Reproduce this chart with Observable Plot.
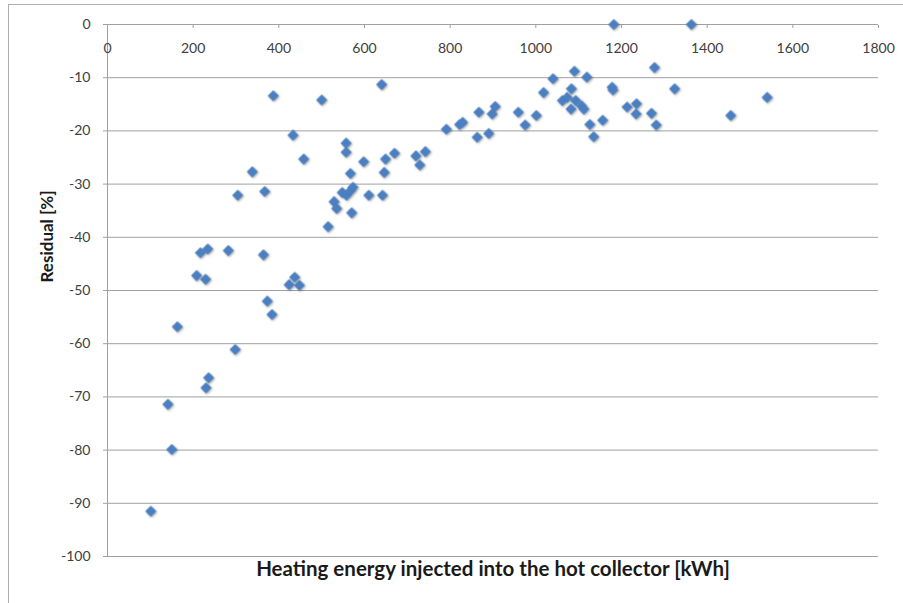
<!DOCTYPE html>
<html>
<head>
<meta charset="utf-8">
<script src="https://cdn.jsdelivr.net/npm/d3@7"></script>
<script src="https://cdn.jsdelivr.net/npm/@observablehq/plot@0.6"></script>
<style>
  html, body { margin: 0; padding: 0; background: #fff; }
  #wrap { position: relative; width: 903px; height: 603px; overflow: hidden; }
  #border { position: absolute; left: 8px; top: 4px; width: 1000px; height: 1000px;
            border-left: 1px solid #b0b0b0; border-top: 1px solid #b0b0b0; pointer-events: none; }
  #wrap svg { position: absolute; left: 0; top: 0; }
  #wrap svg g[aria-label="dot"] { filter: drop-shadow(1px 1.5px 1px rgba(0,0,0,0.35)); }
</style>
</head>
<body>
<div id="wrap"><div id="border"></div></div>
<script>
// Heating energy injected into the hot collector [kWh]
const energy = [
  101, 141, 150, 163, 208, 217, 229, 234, 230, 236,
  282, 298, 304, 338, 364, 367, 373, 384, 387, 424,
  433, 437, 448, 458, 500, 515, 529, 535, 548, 558,
  557, 557, 567, 568, 573, 570, 598, 610, 640, 642,
  646, 649, 670, 720, 729, 742, 791, 822, 829, 863,
  867, 890, 898, 905, 959, 975, 1001, 1018, 1040, 1062,
  1073, 1083, 1090, 1093, 1082, 1107, 1112, 1119, 1126, 1135,
  1156, 1178, 1180, 1182, 1213, 1235, 1234, 1270, 1277, 1281,
  1324, 1363, 1455, 1540
];
// Residual [%]
const residual = [
  -91.5, -71.4, -79.9, -56.8, -47.2, -42.9, -47.9, -42.2, -68.3, -66.4,
  -42.5, -61.1, -32.1, -27.7, -43.3, -31.4, -52.0, -54.5, -13.4, -48.9,
  -20.8, -47.5, -49.0, -25.3, -14.2, -38.0, -33.3, -34.6, -31.6, -32.1,
  -22.3, -24.0, -28.0, -31.2, -30.6, -35.4, -25.8, -32.1, -11.3, -32.1,
  -27.8, -25.3, -24.2, -24.7, -26.4, -23.9, -19.7, -18.8, -18.4, -21.2,
  -16.5, -20.5, -16.8, -15.4, -16.5, -18.9, -17.1, -12.8, -10.2, -14.3,
  -13.7, -12.1, -8.8, -14.3, -15.9, -15.3, -15.9, -9.9, -18.8, -21.1,
  -18.0, -11.8, -12.3, 0, -15.5, -14.9, -16.8, -16.7, -8.1, -18.9,
  -12.1, 0, -17.1, -13.7
];

const xTicks = [0, 200, 400, 600, 800, 1000, 1200, 1400, 1600, 1800];
const yTicks = [0, -10, -20, -30, -40, -50, -60, -70, -80, -90, -100];
const xTitle = "Heating energy injected into the hot collector [kWh]";
const yTitle = "Residual [%]";

const points = energy.map((e, i) => ({energy: e, residual: residual[i]}));

const lineColor = "#a0a0a0";
const textColor = "#404040";
const font = "Lato, 'Open Sans', sans-serif";

const chart = Plot.plot({
  width: 903,
  height: 603,
  marginLeft: 107,
  marginRight: 25,
  marginTop: 24,
  marginBottom: 47,
  style: {fontFamily: font, fontSize: "14px", color: textColor, background: "transparent"},
  x: {domain: [0, 1800]},
  y: {domain: [-100, 0]},
  marks: [
    Plot.gridY(yTicks.filter(d => d !== 0), {stroke: lineColor, strokeOpacity: 1}),
    Plot.ruleX([0], {stroke: lineColor}),
    Plot.ruleY([0], {stroke: lineColor}),
    // x axis sits along y = 0: tick marks hang below the line, labels beneath them
    Plot.axisX(xTicks, {anchor: "top", tickSize: 3, dy: 3, fill: "none", stroke: lineColor, label: null}),
    Plot.axisX(xTicks, {anchor: "top", tickSize: 0, dy: 37, tickFormat: d => String(d), fill: textColor, label: null}),
    Plot.axisY(yTicks, {anchor: "left", tickSize: 4, tickPadding: 13, tickFormat: d => String(d),
                        stroke: lineColor, fill: textColor, label: null}),
    Plot.dot(points, {x: "energy", y: "residual", symbol: "diamond2", r: 5, fill: "#4a7fc1", stroke: "none"}),
    Plot.text([xTitle], {frameAnchor: "bottom", dy: 19, fontWeight: "bold", fontSize: 20.5,
                         letterSpacing: "0.5px", fill: "#1a1a1a"}),
    Plot.text([yTitle], {frameAnchor: "left", dx: -60, dy: -8, rotate: -90, fontWeight: "bold", fontSize: 17, fill: "#1a1a1a"})
  ]
});

document.getElementById("wrap").appendChild(chart);
</script>
</body>
</html>
